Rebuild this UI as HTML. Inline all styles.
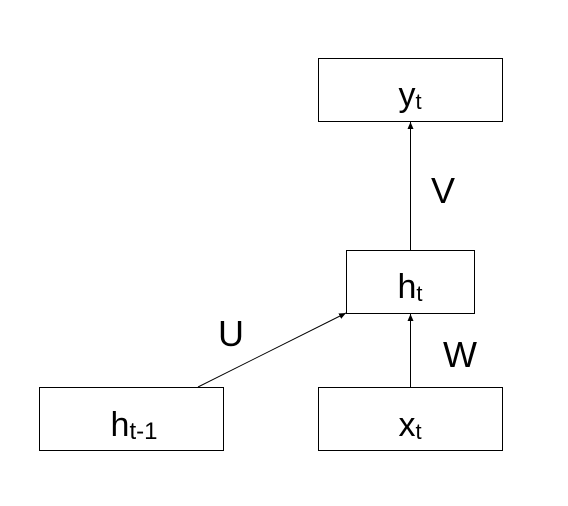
<!DOCTYPE html>
<html><head><meta charset="utf-8"><style>
html,body{margin:0;padding:0;background:#fff;}
svg{display:block;font-family:"Liberation Sans",sans-serif;}
</style></head><body>
<svg width="568" height="506" viewBox="0 0 568 506">
<defs><marker id="ah" markerWidth="8" markerHeight="8" refX="7" refY="4" orient="auto" markerUnits="userSpaceOnUse"><path d="M0,1 L7,4 L0,7 z" fill="#000"/></marker></defs>
<g>
<rect x="318.5" y="58.5" width="184" height="63" fill="#fff" stroke="#000" stroke-width="1"/>
<text x="410" y="106" font-size="34" text-anchor="middle">y<tspan font-size="22" dy="3">t</tspan></text></g>
<g>
<rect x="346.5" y="250.5" width="128" height="63" fill="#fff" stroke="#000" stroke-width="1"/>
<text x="410" y="298" font-size="34" text-anchor="middle">h<tspan font-size="22" dy="3">t</tspan></text></g>
<g>
<rect x="39.5" y="387.5" width="184" height="63" fill="#fff" stroke="#000" stroke-width="1"/>
<text x="134" y="436" font-size="34" text-anchor="middle">h<tspan font-size="24" dy="3">t-1</tspan></text></g>
<g>
<rect x="318.5" y="387.5" width="184" height="63" fill="#fff" stroke="#000" stroke-width="1"/>
<text x="410" y="436" font-size="34" text-anchor="middle">x<tspan font-size="22" dy="3">t</tspan></text></g>
<line x1="410.5" y1="250" x2="410.5" y2="122" stroke="#000" stroke-width="1" marker-end="url(#ah)"/>
<line x1="410.5" y1="387" x2="410.5" y2="314" stroke="#000" stroke-width="1" marker-end="url(#ah)"/>
<line x1="198" y1="387" x2="346" y2="313" stroke="#000" stroke-width="1" marker-end="url(#ah)"/>
<text x="443" y="203" font-size="36" text-anchor="middle">V</text>
<text x="231" y="346" font-size="36" text-anchor="middle">U</text>
<text x="460" y="367" font-size="36" text-anchor="middle">W</text>
</svg>
</body></html>
